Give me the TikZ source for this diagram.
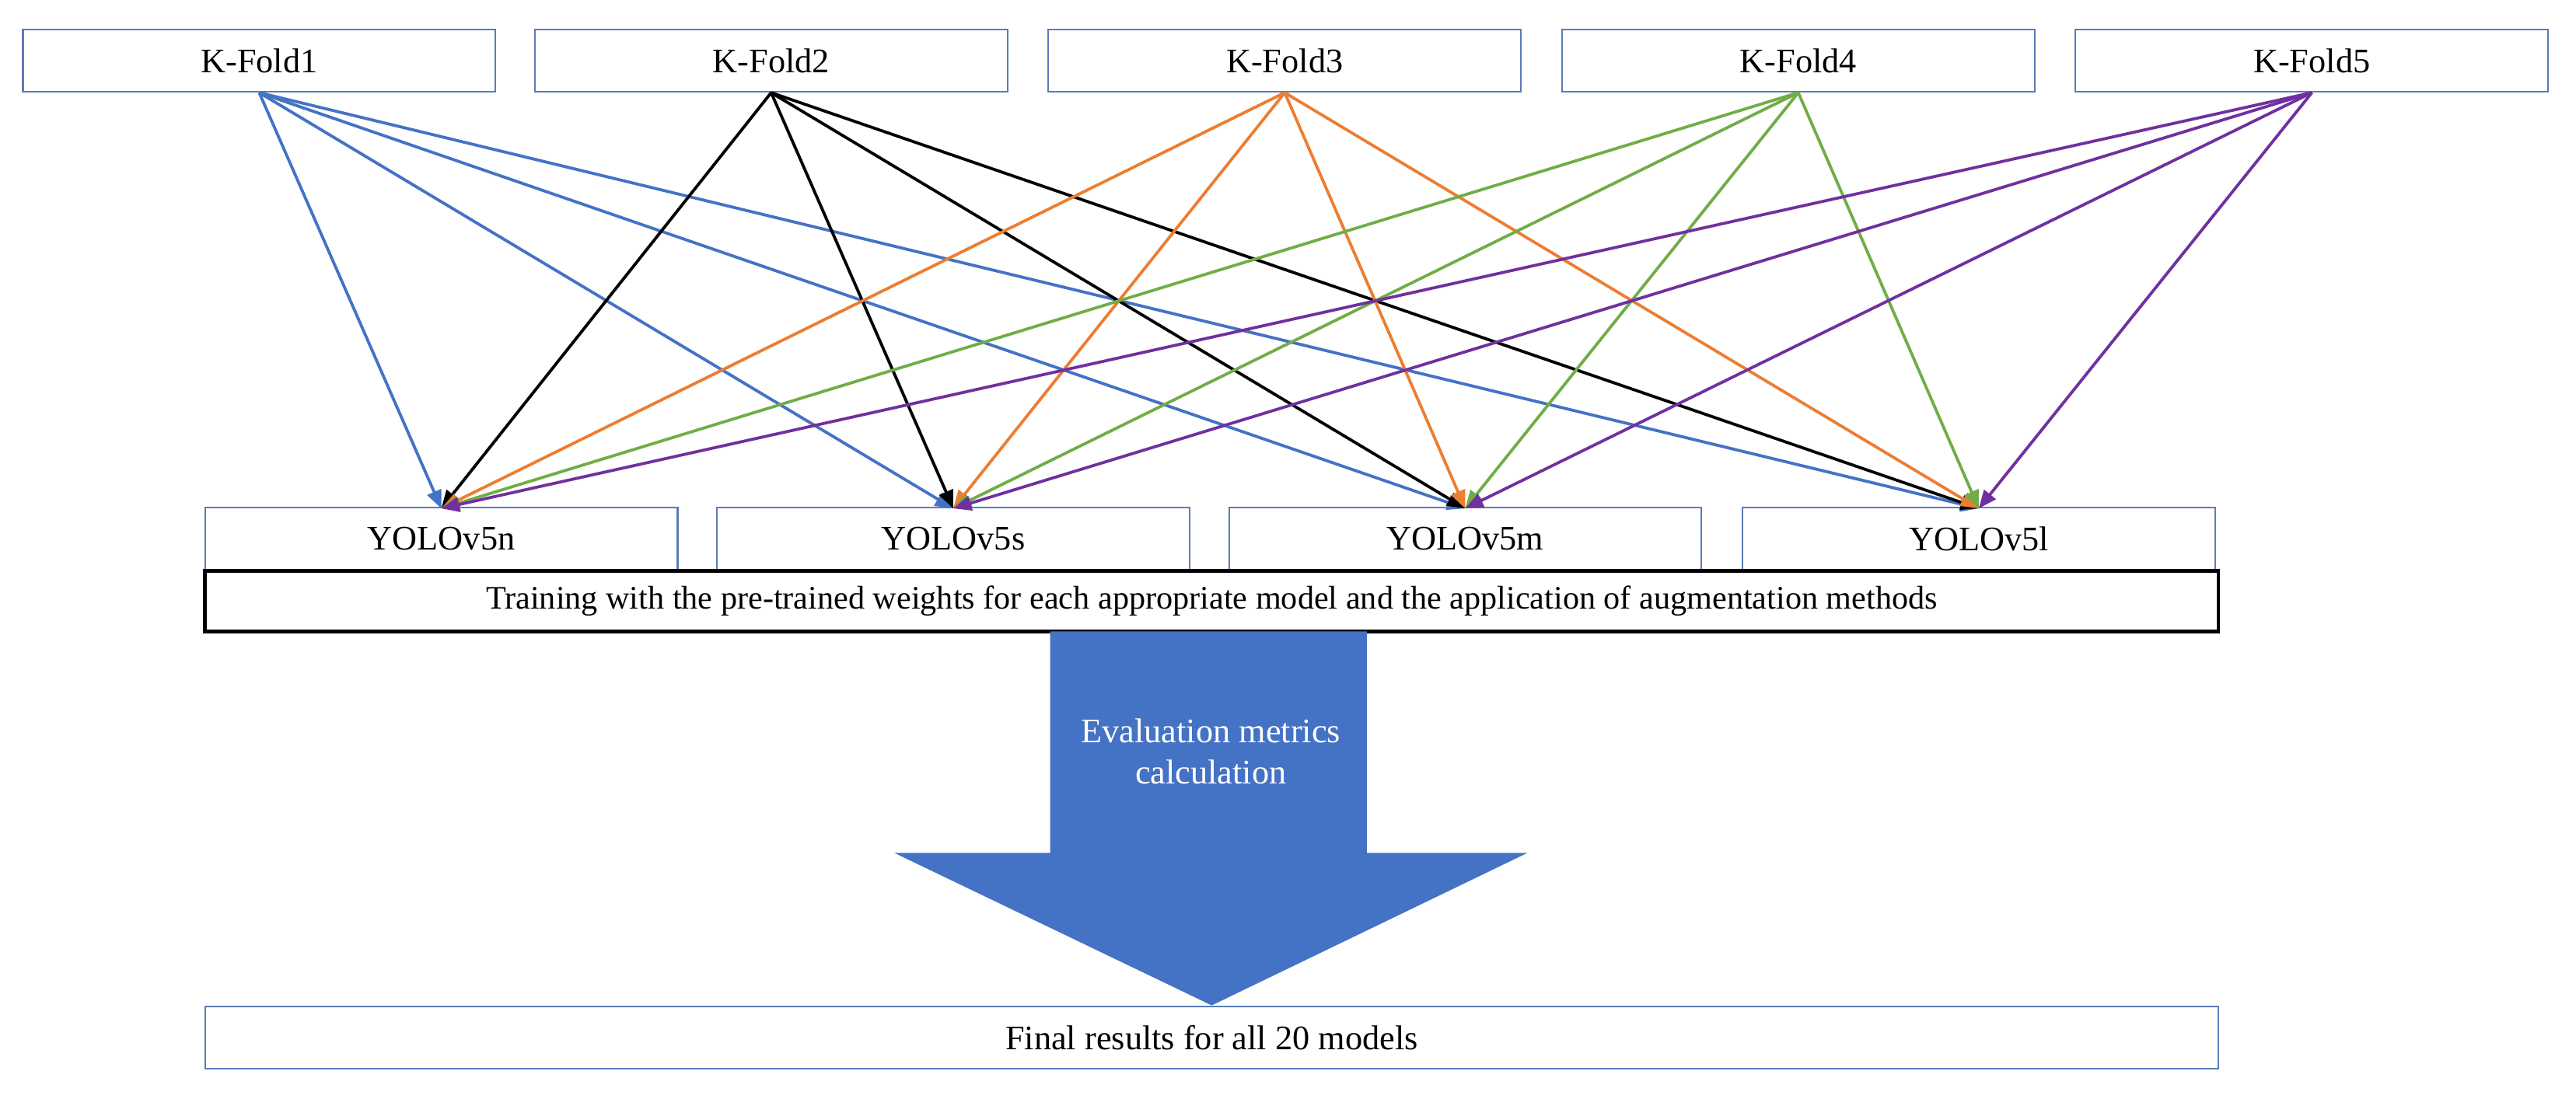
\documentclass[tikz,border=0pt]{standalone}
\usepackage{fontspec}
\setmainfont{Liberation Serif}
\usetikzlibrary{arrows.meta,shapes.arrows}
\definecolor{cb}{HTML}{4472C4}
\definecolor{co}{HTML}{ED7D31}
\definecolor{cg}{HTML}{70AD47}
\definecolor{cp}{HTML}{7030A0}
\definecolor{bd}{HTML}{5A7DB8}
\begin{document}
\begin{tikzpicture}[x=1pt,y=-1pt,
  box/.style={draw=bd,line width=1pt,fill=white,minimum width=288pt,minimum height=38pt,inner sep=0pt,font=\fontsize{21}{24}\selectfont},
  wide/.style={box,minimum width=1227pt},
  conn/.style={line width=1.8pt,-{Triangle[length=11pt,width=9pt]}}]
\useasboundingbox (0,0) rectangle (1570,670);
\node[box] (k1) at (158,37) {K-Fold1};
\node[box] (k2) at (470,37) {K-Fold2};
\node[box] (k3) at (783,37) {K-Fold3};
\node[box] (k4) at (1096,37) {K-Fold4};
\node[box] (k5) at (1409,37) {K-Fold5};
\node[box] (y1) at (269,328.5) {YOLOv5n};
\node[box] (y2) at (581,328.5) {YOLOv5s};
\node[box] (y3) at (893,328.5) {YOLOv5m};
\node[box] (y4) at (1206,328.5) {YOLOv5l};
\node[wide,draw=black,line width=2.2pt,minimum height=37pt,font=\fontsize{20}{23}\selectfont] (tr) at (738.5,366.5) {Training with the pre-trained weights for each appropriate model and the application of augmentation methods};
\node[wide] (fin) at (738.5,632.5) {Final results for all 20 models};
\foreach \k/\c in {k1/cb,k2/black,k3/co,k4/cg,k5/cp}{
  \foreach \y in {y1,y2,y3,y4}{
    \draw[conn,\c] (\k.south) -- ([yshift=-1pt]\y.north);
  }
}
\fill[cb] (640,385) -- (833,385) -- (833,520) -- (931,520) -- (fin.north) -- (545,520) -- (640,520) -- cycle;
\node[white,align=center,font=\fontsize{21}{25}\selectfont] (ev) at (738,458) {Evaluation metrics\\calculation};
\end{tikzpicture}
\end{document}
